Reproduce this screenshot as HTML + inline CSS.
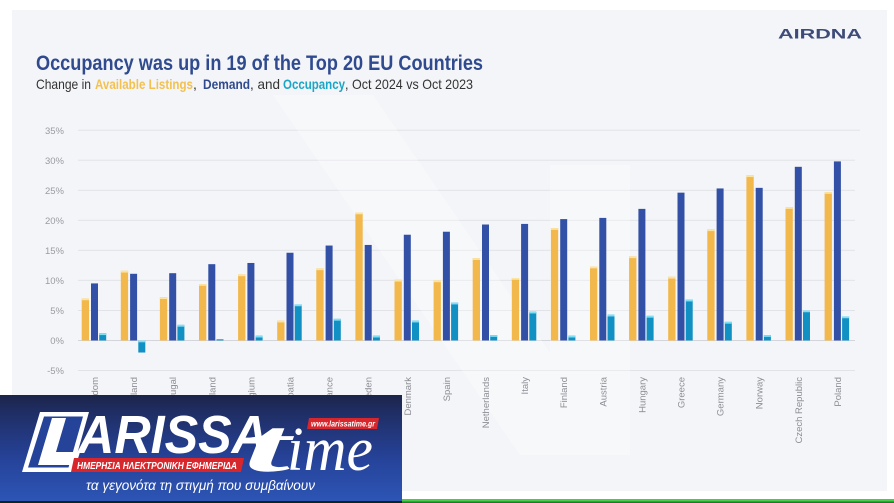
<!DOCTYPE html>
<html><head><meta charset="utf-8"><style>
html,body{margin:0;padding:0;background:#fff;}
svg{display:block;}
</style></head><body>
<svg width="894" height="503" viewBox="0 0 894 503" xmlns="http://www.w3.org/2000/svg" font-family="Liberation Sans, sans-serif">
<defs>
<linearGradient id="ov" x1="0" y1="0" x2="0" y2="1">
<stop offset="0" stop-color="#1c2449"/>
<stop offset="0.15" stop-color="#1f2d63"/>
<stop offset="0.6" stop-color="#26439a"/>
<stop offset="1" stop-color="#2d56b6"/>
</linearGradient>
</defs>
<rect x="0" y="0" width="894" height="503" fill="#ffffff"/>
<rect x="12" y="10" width="875" height="481" fill="#f4f5f8"/>

<!-- title -->
<text x="36" y="70" font-size="21.5" font-weight="bold" fill="#2f4a8e" textLength="447" lengthAdjust="spacingAndGlyphs">Occupancy was up in 19 of the Top 20 EU Countries</text>
<g font-size="14" fill="#333">
<text x="36" y="89" textLength="55" lengthAdjust="spacingAndGlyphs">Change in</text>
<text x="95" y="89" font-weight="bold" fill="#f3c150" textLength="98" lengthAdjust="spacingAndGlyphs">Available Listings</text>
<text x="193" y="89">,</text>
<text x="203" y="89" font-weight="bold" fill="#2f4a8e" textLength="47" lengthAdjust="spacingAndGlyphs">Demand</text>
<text x="250" y="89" textLength="30" lengthAdjust="spacingAndGlyphs">, and</text>
<text x="283" y="89" font-weight="bold" fill="#1aa6c6" textLength="62" lengthAdjust="spacingAndGlyphs">Occupancy</text>
<text x="345" y="89" textLength="128" lengthAdjust="spacingAndGlyphs">, Oct 2024 vs Oct 2023</text>
</g>
<text x="778" y="38.5" font-size="14" font-weight="bold" fill="#3d4b78" textLength="84" lengthAdjust="spacingAndGlyphs">AIRDNA</text>

<!-- gridlines -->
<g stroke="#e2e3e8" stroke-width="1">
<line x1="78" y1="130.3" x2="860" y2="130.3"/>
<line x1="78" y1="160.3" x2="855" y2="160.3"/>
<line x1="78" y1="190.4" x2="855" y2="190.4"/>
<line x1="78" y1="220.4" x2="855" y2="220.4"/>
<line x1="78" y1="250.4" x2="855" y2="250.4"/>
<line x1="78" y1="280.4" x2="855" y2="280.4"/>
<line x1="78" y1="310.5" x2="855" y2="310.5"/>
<line x1="78" y1="370.5" x2="855" y2="370.5"/>
</g>
<line x1="78" y1="340.5" x2="855" y2="340.5" stroke="#d4d5da" stroke-width="1"/>

<!-- y labels -->
<g font-size="9.5" fill="#9a9ba2" text-anchor="end">
<text x="64" y="133.8">35%</text>
<text x="64" y="163.8">30%</text>
<text x="64" y="193.9">25%</text>
<text x="64" y="223.9">20%</text>
<text x="64" y="253.9">15%</text>
<text x="64" y="283.9">10%</text>
<text x="64" y="314">5%</text>
<text x="64" y="344">0%</text>
<text x="64" y="374">-5%</text>
</g>

<!-- watermark -->
<g fill="#ffffff" opacity="0.3">
<polygon points="273,95 373,95 620,455 520,455"/>
<rect x="550" y="165" width="80" height="290"/>
</g>

<!-- bars -->
<g transform="translate(0,340.5) scale(1,-6.01)">
<g fill="#f2b84b">
<rect x="81.7" y="0" width="7.3" height="7.0"/>
<rect x="120.8" y="0" width="7.3" height="11.6"/>
<rect x="159.9" y="0" width="7.3" height="7.2"/>
<rect x="199.0" y="0" width="7.3" height="9.4"/>
<rect x="238.1" y="0" width="7.3" height="11.0"/>
<rect x="277.2" y="0" width="7.3" height="3.3"/>
<rect x="316.3" y="0" width="7.3" height="12.0"/>
<rect x="355.4" y="0" width="7.3" height="21.3"/>
<rect x="394.5" y="0" width="7.3" height="10.1"/>
<rect x="433.6" y="0" width="7.3" height="10.0"/>
<rect x="472.7" y="0" width="7.3" height="13.7"/>
<rect x="511.8" y="0" width="7.3" height="10.4"/>
<rect x="550.9" y="0" width="7.3" height="18.7"/>
<rect x="590.0" y="0" width="7.3" height="12.3"/>
<rect x="629.1" y="0" width="7.3" height="14.0"/>
<rect x="668.2" y="0" width="7.3" height="10.6"/>
<rect x="707.3" y="0" width="7.3" height="18.5"/>
<rect x="746.4" y="0" width="7.3" height="27.5"/>
<rect x="785.5" y="0" width="7.3" height="22.2"/>
<rect x="824.6" y="0" width="7.3" height="24.7"/>
</g>
<g fill="#fbe3a0">
<rect x="81.7" y="6.7" width="7.3" height="0.3"/>
<rect x="120.8" y="11.3" width="7.3" height="0.3"/>
<rect x="159.9" y="6.9" width="7.3" height="0.3"/>
<rect x="199.0" y="9.1" width="7.3" height="0.3"/>
<rect x="238.1" y="10.7" width="7.3" height="0.3"/>
<rect x="277.2" y="3.0" width="7.3" height="0.3"/>
<rect x="316.3" y="11.7" width="7.3" height="0.3"/>
<rect x="355.4" y="21.0" width="7.3" height="0.3"/>
<rect x="394.5" y="9.8" width="7.3" height="0.3"/>
<rect x="433.6" y="9.7" width="7.3" height="0.3"/>
<rect x="472.7" y="13.4" width="7.3" height="0.3"/>
<rect x="511.8" y="10.1" width="7.3" height="0.3"/>
<rect x="550.9" y="18.4" width="7.3" height="0.3"/>
<rect x="590.0" y="12.0" width="7.3" height="0.3"/>
<rect x="629.1" y="13.7" width="7.3" height="0.3"/>
<rect x="668.2" y="10.3" width="7.3" height="0.3"/>
<rect x="707.3" y="18.2" width="7.3" height="0.3"/>
<rect x="746.4" y="27.2" width="7.3" height="0.3"/>
<rect x="785.5" y="21.9" width="7.3" height="0.3"/>
<rect x="824.6" y="24.4" width="7.3" height="0.3"/>
</g>
<g fill="#3250a5">
<rect x="91.0" y="0" width="7" height="9.5"/>
<rect x="130.1" y="0" width="7" height="11.1"/>
<rect x="169.2" y="0" width="7" height="11.2"/>
<rect x="208.3" y="0" width="7" height="12.7"/>
<rect x="247.4" y="0" width="7" height="12.9"/>
<rect x="286.5" y="0" width="7" height="14.6"/>
<rect x="325.6" y="0" width="7" height="15.8"/>
<rect x="364.7" y="0" width="7" height="15.9"/>
<rect x="403.8" y="0" width="7" height="17.6"/>
<rect x="442.9" y="0" width="7" height="18.1"/>
<rect x="482.0" y="0" width="7" height="19.3"/>
<rect x="521.1" y="0" width="7" height="19.4"/>
<rect x="560.2" y="0" width="7" height="20.2"/>
<rect x="599.3" y="0" width="7" height="20.4"/>
<rect x="638.4" y="0" width="7" height="21.9"/>
<rect x="677.5" y="0" width="7" height="24.6"/>
<rect x="716.6" y="0" width="7" height="25.3"/>
<rect x="755.7" y="0" width="7" height="25.4"/>
<rect x="794.8" y="0" width="7" height="28.9"/>
<rect x="833.9" y="0" width="7" height="29.8"/>
</g>
<g fill="#1190c3">
<rect x="99.2" y="0" width="7" height="1.2"/>
<rect x="138.3" y="-2.0" width="7" height="2.0"/>
<rect x="177.4" y="0" width="7" height="2.6"/>
<rect x="216.5" y="0" width="7" height="0.2"/>
<rect x="255.6" y="0" width="7" height="0.8"/>
<rect x="294.7" y="0" width="7" height="6.0"/>
<rect x="333.8" y="0" width="7" height="3.6"/>
<rect x="372.9" y="0" width="7" height="0.8"/>
<rect x="412.0" y="0" width="7" height="3.3"/>
<rect x="451.1" y="0" width="7" height="6.3"/>
<rect x="490.2" y="0" width="7" height="0.9"/>
<rect x="529.3" y="0" width="7" height="4.8"/>
<rect x="568.4" y="0" width="7" height="0.8"/>
<rect x="607.5" y="0" width="7" height="4.3"/>
<rect x="646.6" y="0" width="7" height="4.1"/>
<rect x="685.7" y="0" width="7" height="6.8"/>
<rect x="724.8" y="0" width="7" height="3.1"/>
<rect x="763.9" y="0" width="7" height="0.9"/>
<rect x="803.0" y="0" width="7" height="5.0"/>
<rect x="842.1" y="0" width="7" height="4.0"/>
</g>
<g fill="#7fdff5">
<rect x="99.2" y="0.9" width="7" height="0.3"/>
<rect x="138.3" y="-0.3" width="7" height="0.3"/>
<rect x="177.4" y="2.3" width="7" height="0.3"/>
<rect x="255.6" y="0.5" width="7" height="0.3"/>
<rect x="294.7" y="5.7" width="7" height="0.3"/>
<rect x="333.8" y="3.3" width="7" height="0.3"/>
<rect x="372.9" y="0.5" width="7" height="0.3"/>
<rect x="412.0" y="3.0" width="7" height="0.3"/>
<rect x="451.1" y="6.0" width="7" height="0.3"/>
<rect x="490.2" y="0.6" width="7" height="0.3"/>
<rect x="529.3" y="4.5" width="7" height="0.3"/>
<rect x="568.4" y="0.5" width="7" height="0.3"/>
<rect x="607.5" y="4.0" width="7" height="0.3"/>
<rect x="646.6" y="3.8" width="7" height="0.3"/>
<rect x="685.7" y="6.5" width="7" height="0.3"/>
<rect x="724.8" y="2.8" width="7" height="0.3"/>
<rect x="763.9" y="0.6" width="7" height="0.3"/>
<rect x="803.0" y="4.7" width="7" height="0.3"/>
<rect x="842.1" y="3.7" width="7" height="0.3"/>
</g>
</g>

<!-- x labels -->
<g font-size="9.5" fill="#8c8d94" text-anchor="end">
<text transform="translate(98,377) rotate(-90)">United Kingdom</text>
<text transform="translate(137.1,377) rotate(-90)">Ireland</text>
<text transform="translate(176.2,377) rotate(-90)">Portugal</text>
<text transform="translate(215.3,377) rotate(-90)">Switzerland</text>
<text transform="translate(254.4,377) rotate(-90)">Belgium</text>
<text transform="translate(293.5,377) rotate(-90)">Croatia</text>
<text transform="translate(332.6,377) rotate(-90)">France</text>
<text transform="translate(371.7,377) rotate(-90)">Sweden</text>
<text transform="translate(410.8,377) rotate(-90)">Denmark</text>
<text transform="translate(449.9,377) rotate(-90)">Spain</text>
<text transform="translate(489,377) rotate(-90)">Netherlands</text>
<text transform="translate(528.1,377) rotate(-90)">Italy</text>
<text transform="translate(567.2,377) rotate(-90)">Finland</text>
<text transform="translate(606.3,377) rotate(-90)">Austria</text>
<text transform="translate(645.4,377) rotate(-90)">Hungary</text>
<text transform="translate(684.5,377) rotate(-90)">Greece</text>
<text transform="translate(723.6,377) rotate(-90)">Germany</text>
<text transform="translate(762.7,377) rotate(-90)">Norway</text>
<text transform="translate(801.8,377) rotate(-90)">Czech Republic</text>
<text transform="translate(840.9,377) rotate(-90)">Poland</text>
</g>

<!-- bottom green line -->
<rect x="400" y="499" width="494" height="2.5" fill="#46cf48"/>
<rect x="400" y="501.5" width="494" height="1.5" fill="#1f7a2c"/>

<!-- overlay banner -->
<rect x="0" y="395" width="402" height="108" fill="url(#ov)"/>
<rect x="0" y="501" width="402" height="2" fill="#0f2418"/>
<!-- L box -->
<polygon points="40,412 89,412 72,472 22,472" fill="#ffffff"/>
<polygon points="44,416.5 83,416.5 68.5,467.5 28,467.5" fill="#26439a"/>
<polygon points="52,418 66,418 56,452 80,452 76,465 38,465" fill="#ffffff"/>
<text x="78" y="453" font-size="54" font-weight="bold" font-style="italic" fill="#ffffff" textLength="190" lengthAdjust="spacingAndGlyphs">ARISSA</text>
<text x="244" y="471" font-family="Liberation Serif, serif" font-size="76" font-weight="bold" font-style="italic" fill="#ffffff" textLength="46" lengthAdjust="spacingAndGlyphs">t</text>
<text x="287" y="470" font-family="Liberation Serif, serif" font-size="62" font-style="italic" fill="#ffffff" textLength="86" lengthAdjust="spacingAndGlyphs">ime</text>
<polygon points="309,418 379,418 377,429 307,429" fill="#d7262c"/>
<text x="311" y="426.5" font-size="8" font-weight="bold" font-style="italic" fill="#ffffff" textLength="64" lengthAdjust="spacingAndGlyphs">www.larissatime.gr</text>
<polygon points="74,458 244,458 241,472 71,472" fill="#d7262c"/>
<text x="77" y="469" font-size="10" font-weight="bold" font-style="italic" fill="#ffffff" textLength="160" lengthAdjust="spacingAndGlyphs">ΗΜΕΡΗΣΙΑ ΗΛΕΚΤΡΟΝΙΚΗ ΕΦΗΜΕΡΙΔΑ</text>
<text x="86" y="490" font-size="14" font-style="italic" fill="#ffffff" textLength="229" lengthAdjust="spacingAndGlyphs">τα γεγονότα τη στιγμή που συμβαίνουν</text>
</svg>
</body></html>
